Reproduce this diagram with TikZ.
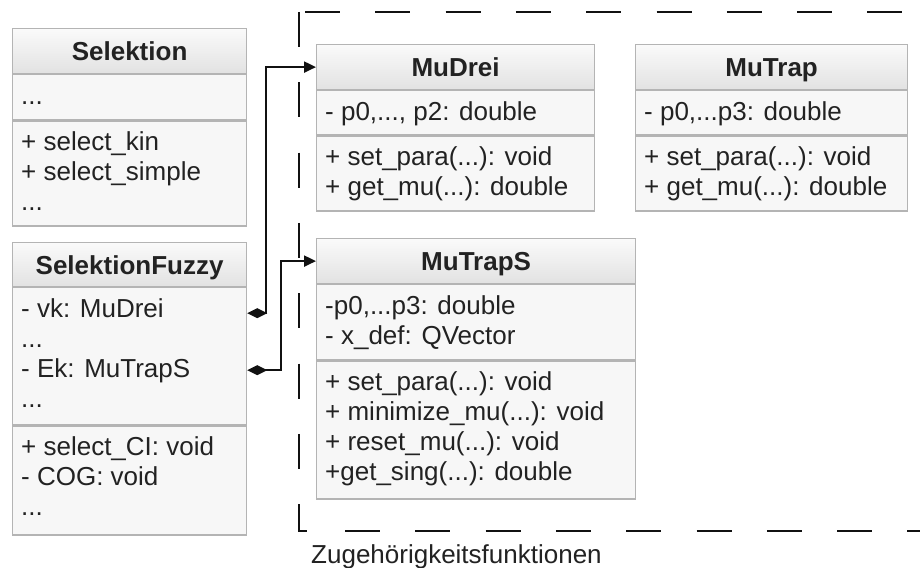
\documentclass[tikz,border=0pt]{standalone}
\usepackage{fontspec}
\setmainfont{Liberation Sans}
\usetikzlibrary{arrows.meta,calc}

\definecolor{boxline}{HTML}{B4B4B4}
\definecolor{hdtop}{HTML}{FAFAFA}
\definecolor{hdbot}{HTML}{E2E2E2}
\definecolor{bodyfill}{HTML}{F7F7F7}
\definecolor{txt}{HTML}{222222}
\definecolor{wire}{HTML}{111111}

% text row #2 of section #1, on a 30pt baseline grid
\newcommand\umlrow[3]{%
  \node[ln] (#1-#2) at ([shift={(9,30*#2)}]#1.north west) {#3};}

\begin{document}
\begin{tikzpicture}[x=1pt, y=-1pt,
  font=\fontsize{26}{30}\selectfont,
  hdr/.style={draw=boxline, line width=1.2pt, top color=hdtop, bottom color=hdbot,
    inner sep=0pt, minimum height=45pt, text height=19pt, text depth=0pt,
    font=\fontsize{26}{30}\selectfont\bfseries, text=txt, anchor=north west},
  sec/.style={draw=boxline, line width=1.2pt, fill=bodyfill, inner sep=0pt,
    anchor=north west},
  ln/.style={anchor=base west, inner sep=0pt, text=txt},
  conn/.style={draw=wire, line width=2.2pt,
    {Diamond[length=20pt,width=10pt]}-{Triangle[length=12pt,width=11pt]}},
  dsh/.style={draw=wire, line width=2.2pt, dash pattern=on 35pt off 35.3pt}]

\fill[white] (0,0) rectangle (920,567);
\useasboundingbox (0,0) rectangle (920,567);

% package frame
\draw[dsh] (299,12) -- (299,531) -- (309,531);
\draw[dsh] (305,12) -- (920,12);
\draw[dsh] (345,531) -- (920,531);
\node[ln] (cap) at (311,563) {Zugehörigkeitsfunktionen};

% Selektion
\node[hdr, minimum width=234pt] (sel) at (12,28) {Selektion};
\node[sec, minimum width=234pt, minimum height=45pt] (sel-a) at (sel.south west) {};
\node[sec, minimum width=234pt, minimum height=105pt] (sel-m) at (sel-a.south west) {};
\umlrow{sel-a}{1}{...}
\umlrow{sel-m}{1}{+ select\_kin}
\umlrow{sel-m}{2}{+ select\_simple}
\umlrow{sel-m}{3}{...}

% SelektionFuzzy
\node[hdr, minimum width=234pt, minimum height=44pt] (fz) at (12,242) {SelektionFuzzy};
\node[sec, minimum width=234pt, minimum height=137pt] (fz-a) at (fz.south west) {};
\node[sec, minimum width=234pt, minimum height=109pt] (fz-m) at (fz-a.south west) {};
\umlrow{fz-a}{1}{- vk: MuDrei}
\umlrow{fz-a}{2}{...}
\umlrow{fz-a}{3}{- Ek: MuTrapS}
\umlrow{fz-a}{4}{...}
\umlrow{fz-m}{1}{+ select\_CI: void}
\umlrow{fz-m}{2}{- COG: void}
\umlrow{fz-m}{3}{...}

% MuDrei
\node[hdr, minimum width=278pt] (md) at (316,44) {MuDrei};
\node[sec, minimum width=278pt, minimum height=44pt] (md-a) at (md.south west) {};
\node[sec, minimum width=278pt, minimum height=75pt] (md-m) at (md-a.south west) {};
\umlrow{md-a}{1}{- p0,..., p2: double}
\umlrow{md-m}{1}{+ set\_para(...): void}
\umlrow{md-m}{2}{+ get\_mu(...): double}

% MuTrap
\node[hdr, minimum width=272pt] (mt) at (635,44) {MuTrap};
\node[sec, minimum width=272pt, minimum height=44pt] (mt-a) at (mt.south west) {};
\node[sec, minimum width=272pt, minimum height=75pt] (mt-m) at (mt-a.south west) {};
\umlrow{mt-a}{1}{- p0,...p3: double}
\umlrow{mt-m}{1}{+ set\_para(...): void}
\umlrow{mt-m}{2}{+ get\_mu(...): double}

% MuTrapS
\node[hdr, minimum width=319pt] (ms) at (316,238) {MuTrapS};
\node[sec, minimum width=319pt, minimum height=75pt] (ms-a) at (ms.south west) {};
\node[sec, minimum width=319pt, minimum height=138pt] (ms-m) at (ms-a.south west) {};
\umlrow{ms-a}{1}{-p0,...p3: double}
\umlrow{ms-a}{2}{- x\_def: QVector}
\umlrow{ms-m}{1}{+ set\_para(...): void}
\umlrow{ms-m}{2}{+ minimize\_mu(...): void}
\umlrow{ms-m}{3}{+ reset\_mu(...): void}
\umlrow{ms-m}{4}{+get\_sing(...): double}

% compositions
\draw[conn] ([yshift=4pt]fz-a-1.base -| fz-a.east) -- ++(19,0) |- (md.west);
\draw[conn] ([yshift=7pt]fz-a-3.base -| fz-a.east) -- ++(34,0) |- (ms.west);
\end{tikzpicture}
\end{document}
